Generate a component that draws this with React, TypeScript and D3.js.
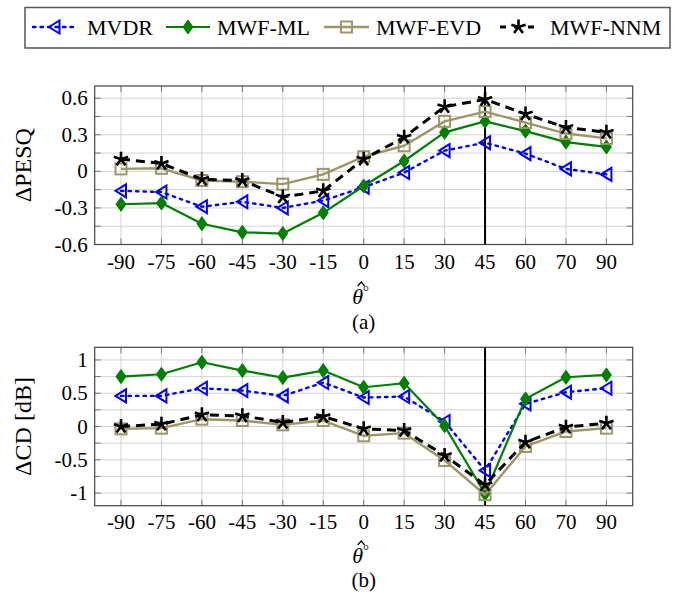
import React from "react";
import * as d3 from "d3";

// angle labels (categorical x)
const angles = ["-90", "-75", "-60", "-45", "-30", "-15", "0", "15", "30", "45", "60", "70", "90"];

// ΔPESQ values
const pesqMVDR = [-0.16, -0.17, -0.29, -0.25, -0.3, -0.24, -0.13, -0.01, 0.17, 0.235, 0.145, 0.02, -0.025];
const pesqML = [-0.27, -0.26, -0.43, -0.5, -0.51, -0.34, -0.12, 0.085, 0.32, 0.41, 0.33, 0.24, 0.2];
const pesqEVD = [0.02, 0.025, -0.075, -0.085, -0.105, -0.025, 0.12, 0.21, 0.41, 0.49, 0.4, 0.31, 0.27];
const pesqNNM = [0.1, 0.065, -0.065, -0.075, -0.21, -0.16, 0.1, 0.28, 0.53, 0.59, 0.47, 0.36, 0.32];

// ΔCD values
const cdMVDR = [0.46, 0.46, 0.575, 0.54, 0.46, 0.66, 0.435, 0.45, 0.075, -0.66, 0.34, 0.515, 0.575];
const cdML = [0.75, 0.785, 0.965, 0.84, 0.735, 0.84, 0.59, 0.65, 0.01, -1.01, 0.415, 0.74, 0.775];
const cdEVD = [-0.035, -0.025, 0.11, 0.09, 0.025, 0.09, -0.14, -0.1, -0.51, -1.025, -0.3, -0.075, -0.025];
const cdNNM = [0, 0.035, 0.175, 0.16, 0.06, 0.15, -0.035, -0.06, -0.435, -0.875, -0.235, -0.01, 0.05];

const pesqTicks = [-0.6, -0.3, 0, 0.3, 0.6];
const pesqTickLabels = ["-0.6", "-0.3", "0", "0.3", "0.6"];
const cdTicks = [-1, -0.5, 0, 0.5, 1];
const cdTickLabels = ["-1", "-0.5", "0", "0.5", "1"];

const seriesNames = ["MVDR", "MWF-ML", "MWF-EVD", "MWF-NNM"];
const markerLine = 45; // vertical line at this angle

const FONT = "Liberation Serif, Times New Roman, Times, DejaVu Serif, serif";
const OLIVE = "#9d9566";

const styles: any = {
  MVDR: { color: "#0000ff", dash: "2.5 5", width: 2.4, cap: "round" },
  "MWF-ML": { color: "#008000", dash: null, width: 2.2, cap: "butt" },
  "MWF-EVD": { color: OLIVE, dash: null, width: 2.4, cap: "butt" },
  "MWF-NNM": { color: "#000000", dash: "9 6", width: 3, cap: "butt" },
};

const Marker = ({ name, x, y }: { name: string; x: number; y: number }) => {
  const c = styles[name].color;
  if (name === "MVDR") {
    return (
      <path
        d={`M${x - 5.5},${y} L${x + 5},${y - 6.5} L${x + 5},${y + 6.5} Z`}
        fill="none"
        stroke={c}
        strokeWidth={2}
        strokeLinejoin="miter"
      />
    );
  }
  if (name === "MWF-ML") {
    return <path d={`M${x},${y - 7} L${x + 5},${y} L${x},${y + 7} L${x - 5},${y} Z`} fill={c} stroke={c} strokeWidth={1} />;
  }
  if (name === "MWF-EVD") {
    return <rect x={x - 5.5} y={y - 5.5} width={11} height={11} fill="none" stroke={c} strokeWidth={2} />;
  }
  // star: five spokes
  const spokes = d3.range(5).map((k) => {
    const a = (-90 + 72 * k) * (Math.PI / 180);
    return `M${x},${y} L${x + 7.5 * Math.cos(a)},${y + 7.5 * Math.sin(a)}`;
  });
  return <path d={spokes.join(" ")} stroke={c} strokeWidth={2.6} fill="none" strokeLinecap="butt" />;
};

const xScale = d3.scaleLinear().domain([-0.65, 12.65]).range([94.7, 632.7]);

const Panel = ({
  top,
  bottom,
  domain,
  gridStep,
  ticks,
  tickLabels,
  data,
  yLabel,
  tickBaseline,
  thetaBaseline,
  capBaseline,
  caption,
}: any) => {
  const yScale = d3.scaleLinear().domain(domain).range([bottom, top]);
  const left = xScale.range()[0];
  const right = xScale.range()[1];
  const gridVals = d3.range(Math.ceil(domain[0] / gridStep - 1e-6), Math.floor(domain[1] / gridStep + 1e-6) + 1).map((k) => k * gridStep);
  const line = d3
    .line<number>()
    .x((_, i) => xScale(i))
    .y((d) => yScale(d));
  const cx = (left + right) / 2;
  const vIdx = angles.indexOf(String(markerLine));

  return (
    <g>
      {/* grid */}
      {gridVals.map((v, i) => (
        <line key={"h" + i} x1={left} x2={right} y1={yScale(v)} y2={yScale(v)} stroke="#d3d3d3" strokeWidth={1} />
      ))}
      {angles.map((a, i) => (
        <line key={"v" + i} x1={xScale(i)} x2={xScale(i)} y1={top} y2={bottom} stroke="#d3d3d3" strokeWidth={1} />
      ))}
      {/* inner tick marks */}
      {gridVals.map((v, i) => (
        <g key={"ht" + i}>
          <line x1={left} x2={left + 6} y1={yScale(v)} y2={yScale(v)} stroke="#777" strokeWidth={1} />
          <line x1={right - 6} x2={right} y1={yScale(v)} y2={yScale(v)} stroke="#777" strokeWidth={1} />
        </g>
      ))}
      {angles.map((a, i) => (
        <g key={"vt" + i}>
          <line x1={xScale(i)} x2={xScale(i)} y1={top} y2={top + 6} stroke="#777" strokeWidth={1} />
          <line x1={xScale(i)} x2={xScale(i)} y1={bottom - 6} y2={bottom} stroke="#777" strokeWidth={1} />
        </g>
      ))}
      {/* vertical marker line */}
      <line x1={xScale(vIdx)} x2={xScale(vIdx)} y1={top} y2={bottom} stroke="#000" strokeWidth={2} />
      {/* frame */}
      <rect x={left} y={top} width={right - left} height={bottom - top} fill="none" stroke="#444" strokeWidth={1.2} />
      {/* series */}
      {seriesNames.map((name, si) => (
        <g key={name}>
          <path
            d={line(data[si]) || ""}
            fill="none"
            stroke={styles[name].color}
            strokeWidth={styles[name].width}
            strokeDasharray={styles[name].dash || undefined}
            strokeLinecap={styles[name].cap}
            strokeLinejoin="round"
          />
          {data[si].map((v: number, i: number) => (
            <Marker key={i} name={name} x={xScale(i)} y={yScale(v)} />
          ))}
        </g>
      ))}
      {/* y tick labels */}
      {ticks.map((t: number, i: number) => (
        <text key={"yl" + i} x={left - 7} y={yScale(t) + 7} textAnchor="end" fontSize={21} fontFamily={FONT}>
          {tickLabels[i]}
        </text>
      ))}
      {/* x tick labels */}
      {angles.map((a, i) => (
        <text key={"xl" + i} x={xScale(i)} y={tickBaseline} textAnchor="middle" fontSize={21} fontFamily={FONT}>
          {a}
        </text>
      ))}
      {/* y label */}
      <text
        transform={`translate(31, ${(top + bottom) / 2}) rotate(-90)`}
        textAnchor="middle"
        fontSize={24}
        fontFamily={FONT}
      >
        {yLabel}
      </text>
      {/* x label: theta hat degree */}
      <text x={cx - 3} y={thetaBaseline} textAnchor="middle" fontSize={22} fontStyle="italic" fontFamily={FONT}>
        θ
        <tspan dy={-8} fontSize={15} fontStyle="normal">
          °
        </tspan>
      </text>
      <path
        d={`M${cx - 6},${thetaBaseline - 18} L${cx - 2.5},${thetaBaseline - 22} L${cx + 1},${thetaBaseline - 18}`}
        fill="none"
        stroke="#000"
        strokeWidth={1.2}
      />
      <text x={cx} y={capBaseline} textAnchor="middle" fontSize={21} fontFamily={FONT}>
        {caption}
      </text>
    </g>
  );
};

const legendItems = [
  { name: "MVDR", x0: 33, x1: 76, tx: 87 },
  { name: "MWF-ML", x0: 166, x1: 210, tx: 217 },
  { name: "MWF-EVD", x0: 324, x1: 369, tx: 376 },
  { name: "MWF-NNM", x0: 500, x1: 537, tx: 550 },
];

const App = () => {
  const legendY = 27;
  return (
    <svg width={680} height={594} style={{ position: "absolute", left: 0, top: 0, background: "#fff" }}>
      <rect x={0} y={0} width={680} height={594} fill="#fff" />
      {/* legend */}
      <rect x={25} y={7.5} width={645} height={40.5} fill="#fff" stroke="#555" strokeWidth={1.5} />
      {legendItems.map((it) => (
        <g key={it.name}>
          <line
            x1={it.x0}
            x2={it.x1}
            y1={legendY}
            y2={legendY}
            stroke={styles[it.name].color}
            strokeWidth={styles[it.name].width}
            strokeDasharray={it.name === "MWF-NNM" ? "6 8" : styles[it.name].dash || undefined}
            strokeLinecap={styles[it.name].cap}
          />
          <Marker name={it.name} x={(it.x0 + it.x1) / 2} y={legendY} />
          <text x={it.tx} y={legendY + 7.5} fontSize={22} fontFamily={FONT}>
            {it.name}
          </text>
        </g>
      ))}
      <Panel
        top={86}
        bottom={244.5}
        domain={[-0.6, 0.7]}
        gridStep={0.15}
        ticks={pesqTicks}
        tickLabels={pesqTickLabels}
        data={[pesqMVDR, pesqML, pesqEVD, pesqNNM]}
        yLabel="ΔPESQ"
        tickBaseline={269}
        thetaBaseline={304}
        capBaseline={329}
        caption="(a)"
      />
      <Panel
        top={347.3}
        bottom={505.7}
        domain={[-1.19, 1.19]}
        gridStep={0.25}
        ticks={cdTicks}
        tickLabels={cdTickLabels}
        data={[cdMVDR, cdML, cdEVD, cdNNM]}
        yLabel="ΔCD [dB]"
        tickBaseline={529}
        thetaBaseline={563}
        capBaseline={587}
        caption="(b)"
      />
    </svg>
  );
};

export default App;
